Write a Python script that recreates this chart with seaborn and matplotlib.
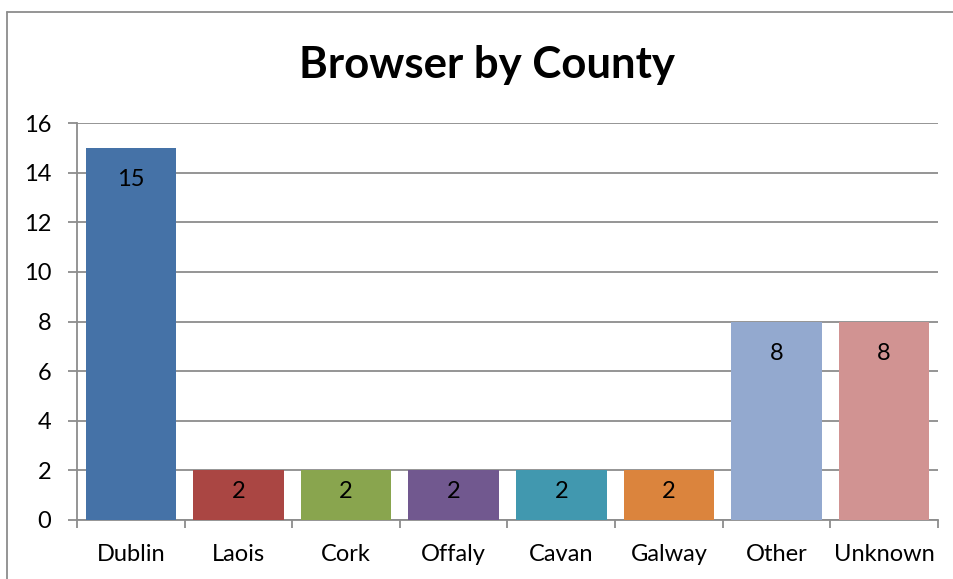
import matplotlib
matplotlib.use("Agg")
import matplotlib.pyplot as plt
import numpy as np
import pandas as pd
import seaborn as sns
from matplotlib.lines import Line2D

counties = ["Dublin", "Laois", "Cork", "Offaly", "Cavan", "Galway", "Other", "Unknown"]
counts = [15, 2, 2, 2, 2, 2, 8, 8]
colors = ["#4572A7", "#AA4643", "#89A54E", "#71588F", "#4198AF", "#DB843D", "#93A9CF", "#D19392"]
y_ticks = [0, 2, 4, 6, 8, 10, 12, 14, 16]

sns.set_theme(style="white")
plt.rcParams['font.family'] = ['Lato', 'DejaVu Sans']

df = pd.DataFrame({"county": counties, "count": counts})

fig = plt.figure(figsize=(9.54, 5.79), dpi=100)
ax = fig.add_axes([77 / 954, 59 / 579, (938 - 77) / 954, (520 - 123) / 579])

# chart border (cropped at right/bottom)
bx, by = 7.5 / 954, 1 - 11.5 / 579
fig.lines.append(Line2D([bx, 1.0], [by, by], transform=fig.transFigure, color="#8c8c8c", lw=1.3))
fig.lines.append(Line2D([bx, bx], [0.0, by], transform=fig.transFigure, color="#8c8c8c", lw=1.3))

sns.barplot(data=df, x="county", y="count", hue="county", palette=colors,
            legend=False, width=0.84, saturation=1, linewidth=0, ax=ax, zorder=3)

ax.set_ylim(0, 16)
ax.set_xlim(-0.5, len(counties) - 0.5)
ax.set_yticks(y_ticks)
ax.yaxis.grid(True, color="#8c8c8c", linewidth=1.3)
ax.set_axisbelow(True)

for s in ["top", "right"]:
    ax.spines[s].set_visible(False)
for s in ["left", "bottom"]:
    ax.spines[s].set_color("#8c8c8c")
    ax.spines[s].set_linewidth(1.3)

ax.tick_params(axis="y", length=6.5, width=1.3, color="#8c8c8c", labelsize=17,
               labelcolor="black", pad=12, left=True)
ax.tick_params(axis="x", which="major", length=0, labelsize=17, labelcolor="black", pad=17)
ax.set_xticks(np.arange(-0.5, len(counties)), minor=True)
ax.tick_params(axis="x", which="minor", length=6, width=1.3, color="#8c8c8c", bottom=True)
ax.set_xlabel("")
ax.set_ylabel("")

# value labels just inside the top of each bar
for i, v in enumerate(counts):
    off = -23 if v > 4 else -15
    ax.annotate(str(v), (i, v), xytext=(0, off), textcoords="offset points",
                ha="center", va="center", fontsize=17, color="black", zorder=5)

fig.text(487 / 954, 1 - 65 / 579, "Browser by County", ha="center", va="center",
         fontsize=31.5, fontweight="bold", color="black")

fig.savefig("out.png", dpi=100)
